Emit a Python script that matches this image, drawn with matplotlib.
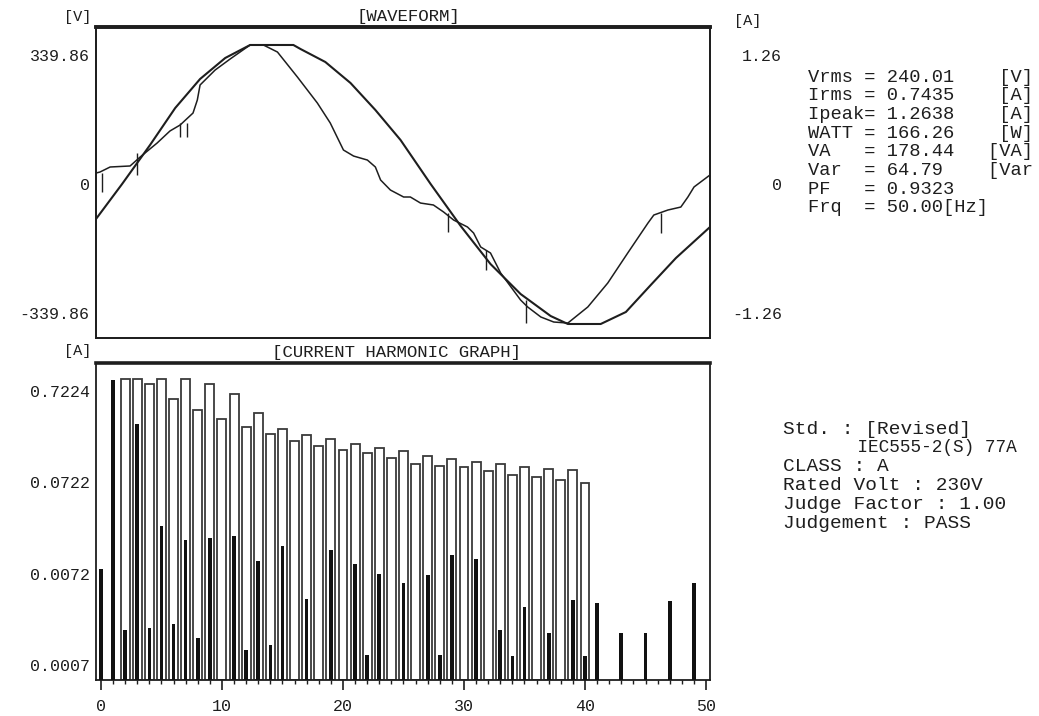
import numpy as np
import matplotlib
matplotlib.use("Agg")
import matplotlib.pyplot as plt
from matplotlib.ticker import FixedLocator, NullFormatter

# ---- waveform, one cycle (time in ms) ----
volt_t = [0.00, 0.85, 1.76, 2.58, 3.39, 4.21, 5.02, 5.87, 6.43, 6.66, 7.47, 8.29,
          9.10, 9.92, 10.90, 11.88, 12.85, 13.83, 14.81, 15.37, 16.44, 17.26,
          18.07, 18.89, 20.00]
volt_v = [-92.2, 0.0, 102.7, 200.2, 276.6, 332.0, 366.2, 366.2, 366.2, 355.7, 321.4,
          266.1, 195.0, 115.9, 0.0, -110.7, -210.8, -289.8, -347.8, -368.8, -368.8,
          -337.2, -266.1, -195.0, -113.3]

curr_t = [0.00, 0.13, 0.46, 1.11, 1.44, 1.99, 2.41, 2.74, 3.16, 3.30, 3.39, 3.88,
          4.37, 5.02, 5.45, 5.91, 6.56, 7.21, 7.63, 8.06, 8.39, 8.84, 9.10, 9.27,
          9.59, 10.02, 10.24, 10.57, 10.99, 11.32, 11.65, 12.10, 12.30, 12.53,
          12.85, 13.18, 13.83, 14.06, 14.49, 14.91, 15.37, 16.02, 16.67, 17.32,
          17.98, 18.17, 18.63, 19.05, 19.28, 19.48, 20.00]
curr_a = [0.107, 0.117, 0.166, 0.176, 0.264, 0.400, 0.518, 0.576, 0.693, 0.820,
          0.967, 1.113, 1.221, 1.358, 1.358, 1.289, 1.045, 0.791, 0.596, 0.332,
          0.273, 0.234, 0.166, 0.039, -0.059, -0.127, -0.127, -0.186, -0.205,
          -0.273, -0.352, -0.420, -0.479, -0.615, -0.674, -0.869, -1.133, -1.201,
          -1.299, -1.348, -1.358, -1.201, -0.967, -0.674, -0.381, -0.303, -0.254,
          -0.225, -0.127, -0.029, 0.088]

# short vertical marks hanging off the current trace
mark_t = [0.20, 1.34, 2.74, 2.97, 11.48, 12.70, 14.00, 18.40]
mark_top = [0.107, 0.303, 0.596, 0.596, -0.283, -0.645, -1.133, -0.283]
mark_bot = [-0.078, 0.088, 0.459, 0.459, -0.469, -0.840, -1.358, -0.479]

# ---- current harmonic graph ----
harm_n = list(range(0, 50))
harm_meas = [0.0081, 0.96, 0.00175, 0.317, 0.00185, 0.0238, 0.00203, 0.0170, 0.00144,
             0.0177, np.nan, 0.0185, 0.00106, 0.00986, 0.00120, 0.0147, np.nan,
             0.00386, np.nan, 0.0130, np.nan, 0.00931, 0.00093, 0.00717, np.nan,
             0.00572, np.nan, 0.00706, 0.00093, 0.0115, np.nan, 0.0106, np.nan,
             0.00177, 0.00090, 0.00313, np.nan, 0.00163, np.nan, 0.00371, 0.00090,
             0.00346, np.nan, 0.00163, np.nan, 0.00163, np.nan, 0.00367, np.nan,
             0.00575]
limit_n = list(range(2, 41))
limit_a = [0.98, 0.98, 0.868, 0.98, 0.587, 0.98, 0.445, 0.855, 0.355, 0.665, 0.293,
           0.413, 0.244, 0.276, 0.206, 0.239, 0.181, 0.215, 0.163, 0.192, 0.150,
           0.171, 0.133, 0.160, 0.116, 0.141, 0.110, 0.130, 0.1055, 0.122, 0.097,
           0.1145, 0.0876, 0.107, 0.082, 0.101, 0.0775, 0.0986, 0.0719]
log_ticks = [0.7224, 0.07224, 0.007224, 0.0007224]
log_labels = ["0.7224", "0.0722", "0.0072", "0.0007"]

info_lines = ["Vrms = 240.01    [V]",
              "Irms = 0.7435    [A]",
              "Ipeak= 1.2638    [A]",
              "WATT = 166.26    [W]",
              "VA   = 178.44   [VA]",
              "Var  = 64.79    [Var",
              "PF   = 0.9323",
              "Frq  = 50.00[Hz]"]
judge_lines = ["Std. : [Revised]",
               "       IEC555-2(S) 77A",
               "CLASS : A",
               "Rated Volt : 230V",
               "Judge Factor : 1.00",
               "Judgement : PASS"]

W, H = 1039, 716
ink = "#1e1e1e"
mono = "Liberation Mono"
plt.rcParams["font.family"] = mono


def fx(x):
    return x / W


def fy(y):
    return 1 - y / H


fig = plt.figure(figsize=(W / 100, H / 100), dpi=100)

# ---------------- waveform ----------------
ax = fig.add_axes([fx(96), fy(338), fx(710) - fx(96), fy(27) - fy(338)])
vlim = (-405.7, 413.6)
ax.set_xlim(0, 20)
ax.set_ylim(*vlim)
ax.plot(volt_t, volt_v, color=ink, lw=1.5)
ax.set_xticks([])
ax.set_yticks([339.86, 0, -339.86])
ax.set_yticklabels(["339.86", "0", "-339.86"])
ax.tick_params(axis="y", length=0, pad=4.5, labelsize=12, colors=ink)

ax2 = ax.twinx()
ax2.set_ylim(vlim[0] * 1.26 / 339.86, vlim[1] * 1.26 / 339.86)
ax2.plot(curr_t, curr_a, color=ink, lw=1.1)
ax2.vlines(mark_t, mark_bot, mark_top, color=ink, lw=1.0)
ax2.set_yticks([1.26, 0, -1.26])
ax2.set_yticklabels(["1.26", "0", "-1.26"])
ax2.tick_params(axis="y", length=0, pad=52, labelsize=12, colors=ink)
for lbl in ax2.get_yticklabels():
    lbl.set_horizontalalignment("right")

for a in (ax, ax2):
    for s in a.spines.values():
        s.set_color(ink)
        s.set_linewidth(1.3)
ax.spines["top"].set_linewidth(2.6)
ax2.spines["top"].set_linewidth(2.6)

fig.text(fx(78), fy(17), "[V]", ha="center", va="center", fontsize=11, color=ink)
fig.text(fx(748), fy(21), "[A]", ha="center", va="center", fontsize=11, color=ink)
fig.text(fx(408), fy(17), "[WAVEFORM]", ha="center", va="center", fontsize=12.5, color=ink)

# ---------------- harmonic graph ----------------
bx = fig.add_axes([fx(96), fy(680), fx(710) - fx(96), fy(363) - fy(680)])
ylo = 0.000497
bx.set_yscale("log")
bx.set_xlim(-0.41, 50.33)
bx.set_ylim(ylo, 1.459)

lim = np.array(limit_a)
bx.bar(limit_n, lim - ylo, bottom=ylo, width=0.74, facecolor="white",
       edgecolor="#3a3a3a", linewidth=1.3, zorder=2)
meas = np.array(harm_meas)
ok = ~np.isnan(meas)
bx.bar(np.array(harm_n)[ok], meas[ok] - ylo, bottom=ylo, width=0.3,
       color="#111111", linewidth=0, zorder=3)

bx.yaxis.set_major_locator(FixedLocator(log_ticks))
bx.yaxis.set_minor_locator(FixedLocator([]))
bx.set_yticklabels(log_labels)
bx.yaxis.set_minor_formatter(NullFormatter())
bx.tick_params(axis="y", length=0, pad=4.5, labelsize=12, colors=ink)

bx.set_xticks([0, 10, 20, 30, 40, 50])
bx.set_xticks(harm_n + [50], minor=True)
bx.tick_params(axis="x", which="major", length=7, width=1.2, pad=7, labelsize=12, colors=ink)
bx.tick_params(axis="x", which="minor", length=3, width=1.0, colors=ink)

for s in bx.spines.values():
    s.set_color(ink)
    s.set_linewidth(1.3)
bx.spines["top"].set_linewidth(2.6)

fig.text(fx(78), fy(351), "[A]", ha="center", va="center", fontsize=11, color=ink)
fig.text(fx(396), fy(353), "[CURRENT HARMONIC GRAPH]", ha="center", va="center",
         fontsize=12.5, color=ink)

# ---------------- measurement text ----------------
for i, line in enumerate(info_lines):
    fig.text(fx(808), fy(77 + 18.7 * i), line, ha="left", va="center",
             fontsize=13.5, color=ink)

for i, line in enumerate(judge_lines):
    fig.text(fx(783), fy(429 + 18.8 * i), line, ha="left", va="center",
             fontsize=14 if i != 1 else 12.8, color=ink)

fig.savefig("out.png", dpi=100, facecolor="white")
